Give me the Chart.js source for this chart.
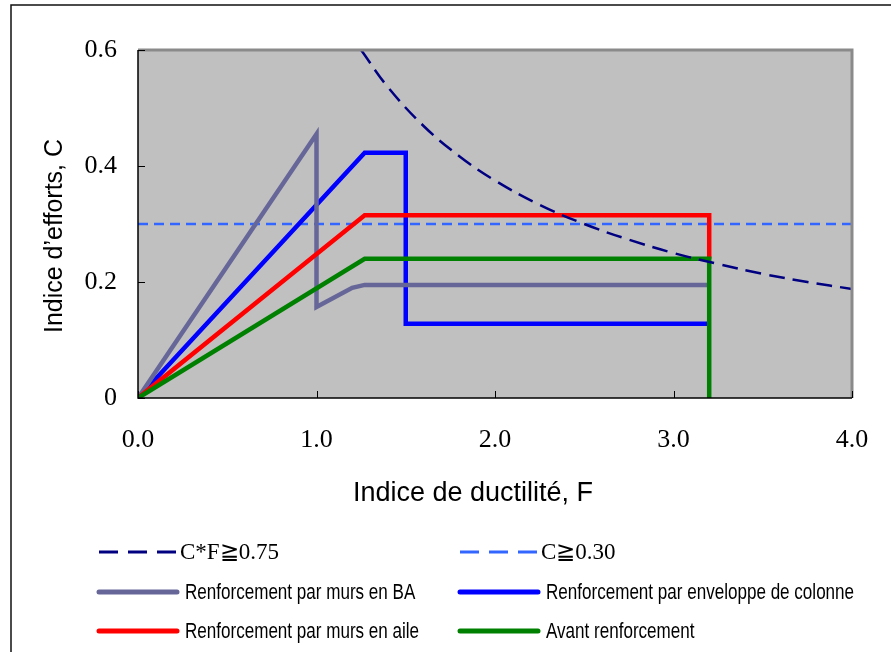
<!DOCTYPE html>
<html>
<head>
<meta charset="utf-8">
<script src="https://cdn.jsdelivr.net/npm/chart.js@4.4.1/dist/chart.umd.min.js"></script>
<style>
  html, body { margin: 0; padding: 0; background: #fff; }
  #wrap { width: 891px; height: 652px; }
</style>
</head>
<body>
<div id="wrap"><canvas id="myChart" width="891" height="652"></canvas></div>
<script>
// tick labels
const xTickLabels = ['0.0', '1.0', '2.0', '3.0', '4.0'];
const yTickLabels = ['0', '0.2', '0.4', '0.6'];

// series names (legend order)
const seriesNames = [
    'C*F\u22670.75',
    'C\u22670.30',
    'Renforcement par murs en BA',
    'Renforcement par enveloppe de colonne',
    'Renforcement par murs en aile',
    'Avant renforcement'
];

// C*F >= 0.75 curve
const cfF = [1.25, 1.4, 1.6, 1.8, 2.0, 2.25, 2.5, 2.75, 3.0, 3.25, 3.5, 3.75, 4.0];
const cfC = [0.6, 0.536, 0.469, 0.417, 0.375, 0.333, 0.30, 0.273, 0.25, 0.231, 0.214, 0.20, 0.188];

// C >= 0.30 line
const c30F = [0, 4.0];
const c30C = [0.30, 0.30];

// Renforcement par murs en BA
const baF = [0, 1.0, 1.0, 1.2, 1.27, 3.2];
const baC = [0, 0.455, 0.157, 0.19, 0.195, 0.195];

// Renforcement par enveloppe de colonne
const colF = [0, 1.27, 1.5, 1.5, 3.2];
const colC = [0, 0.423, 0.423, 0.128, 0.128];

// Renforcement par murs en aile
const aileF = [0, 1.27, 3.2, 3.2];
const aileC = [0, 0.315, 0.315, 0.24];

// Avant renforcement
const avantF = [0, 1.27, 3.2, 3.2];
const avantC = [0, 0.24, 0.24, 0];

function pts(xs, ys) {
    return xs.map((x, i) => ({x: x, y: ys[i]}));
}

const datasets = [
    {label: seriesNames[0], data: pts(cfF, cfC), borderColor: '#000080', borderWidth: 2.5,
     borderDash: [16, 8], tension: 0.4, order: 0},
    {label: seriesNames[1], data: pts(c30F, c30C), borderColor: '#3366ff', borderWidth: 2.5,
     borderDash: [10, 6], order: 5},
    {label: seriesNames[2], data: pts(baF, baC), borderColor: '#666699', borderWidth: 4.5, order: 3},
    {label: seriesNames[3], data: pts(colF, colC), borderColor: '#0000ff', borderWidth: 4.5, order: 4},
    {label: seriesNames[4], data: pts(aileF, aileC), borderColor: '#ff0000', borderWidth: 4.5, order: 2},
    {label: seriesNames[5], data: pts(avantF, avantC), borderColor: '#008000', borderWidth: 4.5, order: 1}
];
datasets.forEach(d => {
    d.showLine = true;
    d.pointRadius = 0;
    d.pointHoverRadius = 0;
    d.fill = false;
    d.borderJoinStyle = 'miter';
});

// legend slots: 2 columns x 3 rows
const legendSlots = [
    {x: 99, y: 552}, {x: 460, y: 552},
    {x: 99, y: 592}, {x: 460, y: 592},
    {x: 99, y: 631}, {x: 460, y: 631}
];

const framePlugin = {
    id: 'framePlugin',
    beforeDatasetsDraw(chart) {
        const {ctx, chartArea: a} = chart;
        ctx.save();
        ctx.fillStyle = '#c0c0c0';
        ctx.fillRect(a.left, a.top, a.right - a.left, a.bottom - a.top);
        ctx.restore();
    },
    afterDatasetsDraw(chart) {
        const {ctx, chartArea: a, scales} = chart;
        ctx.save();
        // grey top / right edge
        ctx.strokeStyle = '#8a8a8a';
        ctx.lineWidth = 3;
        ctx.beginPath();
        ctx.moveTo(a.left, a.top);
        ctx.lineTo(a.right, a.top);
        ctx.lineTo(a.right, a.bottom);
        ctx.stroke();
        // axis lines
        ctx.strokeStyle = '#000';
        ctx.lineWidth = 1.5;
        ctx.beginPath();
        ctx.moveTo(a.left, a.top);
        ctx.lineTo(a.left, a.bottom);
        ctx.lineTo(a.right, a.bottom);
        ctx.stroke();
        // inner ticks
        ctx.lineWidth = 1;
        scales.x.ticks.forEach(t => {
            const px = Math.round(scales.x.getPixelForValue(t.value)) + 0.5;
            ctx.beginPath();
            ctx.moveTo(px, a.bottom);
            ctx.lineTo(px, a.bottom - 7);
            ctx.stroke();
        });
        scales.y.ticks.forEach(t => {
            const py = Math.round(scales.y.getPixelForValue(t.value)) + 0.5;
            ctx.beginPath();
            ctx.moveTo(a.left, py);
            ctx.lineTo(a.left + 7, py);
            ctx.stroke();
        });
        ctx.restore();
    },
    afterDraw(chart) {
        const {ctx} = chart;
        ctx.save();
        // outer figure frame (top + left only)
        ctx.strokeStyle = '#111';
        ctx.lineWidth = 1.5;
        ctx.beginPath();
        ctx.moveTo(891, 5);
        ctx.lineTo(11, 5);
        ctx.lineTo(11, 652);
        ctx.stroke();

        // axis titles
        ctx.fillStyle = '#000';
        ctx.textAlign = 'center';
        ctx.textBaseline = 'middle';
        ctx.font = '27px "Liberation Sans", Arial, sans-serif';
        ctx.fillText('Indice de ductilit\u00e9, F', 473, 494);
        ctx.save();
        ctx.translate(55, 236);
        ctx.rotate(-Math.PI / 2);
        ctx.font = '25px "Liberation Sans", Arial, sans-serif';
        ctx.fillText('Indice d\u2019efforts, C', 0, 0);
        ctx.restore();

        // legend
        chart.data.datasets.forEach((ds, i) => {
            const s = legendSlots[i];
            ctx.save();
            ctx.strokeStyle = ds.borderColor;
            if (ds.borderDash) {
                ctx.lineWidth = 3;
                ctx.setLineDash([19, 10]);
                ctx.lineCap = 'butt';
            } else {
                ctx.lineWidth = 5;
                ctx.lineCap = 'round';
            }
            ctx.beginPath();
            ctx.moveTo(s.x, s.y);
            ctx.lineTo(s.x + 78, s.y);
            ctx.stroke();
            ctx.restore();

            ctx.save();
            ctx.fillStyle = '#000';
            ctx.textAlign = 'left';
            ctx.textBaseline = 'middle';
            if (ds.borderDash) {
                ctx.font = '23px "Liberation Serif", "Times New Roman", serif';
                ctx.fillText(ds.label, s.x + 81, s.y + 1);
            } else {
                ctx.translate(s.x + 86, s.y + 1);
                ctx.scale(0.775, 1);
                ctx.font = '22px "Liberation Sans", Arial, sans-serif';
                ctx.fillText(ds.label, 0, 0);
            }
            ctx.restore();
        });
        ctx.restore();
    }
};

const ctx = document.getElementById('myChart');

const chart = new Chart(ctx, {
    type: 'scatter',
    data: {datasets: datasets},
    options: {
        responsive: false,
        animation: false,
        devicePixelRatio: 1,
        layout: {padding: {top: 50, right: 39, left: 0, bottom: 0}},
        plugins: {
            legend: {display: false},
            tooltip: {enabled: false}
        },
        scales: {
            x: {
                type: 'linear',
                min: 0,
                max: 4,
                afterFit: s => {
                    s.height = 254;
                    s.paddingLeft = 0;
                    s.paddingRight = 0;
                },
                grid: {display: false, drawTicks: false},
                border: {display: false},
                ticks: {
                    stepSize: 1,
                    padding: 27,
                    color: '#000',
                    font: {family: '"Liberation Serif", "Times New Roman", serif', size: 26},
                    callback: (v, i) => xTickLabels[i]
                }
            },
            y: {
                type: 'linear',
                min: 0,
                max: 0.6,
                afterFit: s => {
                    s.width = 138;
                    s.paddingTop = 0;
                    s.paddingBottom = 0;
                },
                grid: {display: false, drawTicks: false},
                border: {display: false},
                ticks: {
                    stepSize: 0.2,
                    padding: 21,
                    color: '#000',
                    font: {family: '"Liberation Serif", "Times New Roman", serif', size: 26},
                    callback: (v, i) => yTickLabels[i]
                }
            }
        }
    },
    plugins: [framePlugin]
});
</script>
</body>
</html>
